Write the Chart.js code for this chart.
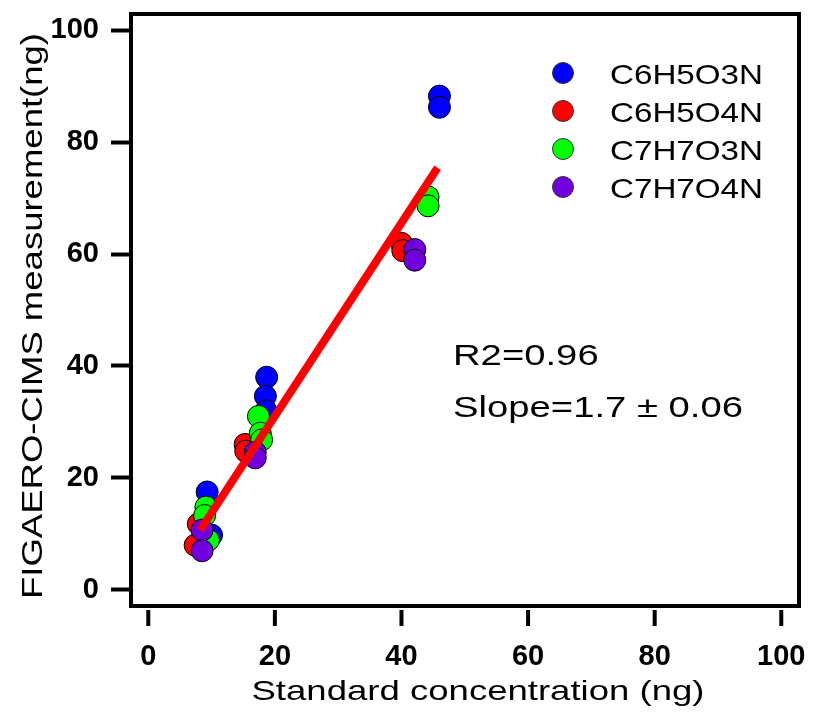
<!DOCTYPE html>
<html>
<head>
<meta charset="utf-8">
<script src="https://cdn.jsdelivr.net/npm/chart.js@4.4.1/dist/chart.umd.min.js"></script>
<style>
  body { margin: 0; background: #fff; }
  canvas { display: block; }
</style>
</head>
<body>
<canvas id="chart" width="815" height="717"></canvas>
<script>
// data
const seriesNames = ['C6H5O3N', 'C6H5O4N', 'C7H7O3N', 'C7H7O4N'];
const seriesColors = ['#0000ff', '#ff0000', '#00ff00', '#7000dd'];

const c6h5o3nX = [9.3, 10.0, 18.7, 18.5, 18.6, 46.0, 46.0];
const c6h5o3nY = [17.5, 9.8, 38.0, 34.6, 32.0, 88.2, 86.2];

const c6h5o4nX = [7.9, 7.4, 15.3, 15.4, 40.0, 40.2];
const c6h5o4nY = [11.8, 8.0, 26.0, 24.8, 61.9, 60.6];

const c7h7o3nX = [9.1, 8.9, 9.5, 17.4, 17.7, 17.9, 44.2, 44.2];
const c7h7o3nY = [14.8, 13.3, 8.9, 31.0, 28.0, 26.8, 70.2, 68.6];

const c7h7o4nX = [8.5, 8.5, 16.9, 16.9, 42.1, 42.1];
const c7h7o4nY = [10.7, 7.0, 24.6, 23.6, 60.8, 58.9];

// regression line end points
const fitX = [8.2, 45.7];
const fitY = [10.7, 75.4];

const xTicks = [0, 20, 40, 60, 80, 100];
const yTicks = [0, 20, 40, 60, 80, 100];

const xTitle = 'Standard concentration (ng)';
const yTitle = 'FIGAERO-CIMS measurement(ng)';
const noteLines = ['R2=0.96', 'Slope=1.7 \u00b1 0.06'];

const FONT = "'Liberation Sans', Arial, sans-serif";

function toPoints(xs, ys) {
    return xs.map((x, i) => ({ x: x, y: ys[i] }));
}

// text in the figure is wider than Arial, so stretch it to the measured width
function wideText(ctx, text, x, y, size, width, align, angle) {
    ctx.save();
    ctx.font = size + 'px ' + FONT;
    const sx = width / ctx.measureText(text).width;
    ctx.translate(x, y);
    if (angle) ctx.rotate(angle);
    ctx.scale(sx, 1);
    ctx.textAlign = align;
    ctx.textBaseline = 'alphabetic';
    ctx.fillStyle = '#000';
    ctx.fillText(text, 0, 0);
    ctx.restore();
}

const decorPlugin = {
    id: 'decor',
    afterDraw(chart) {
        const ctx = chart.ctx;
        const a = chart.chartArea;
        const xs = chart.scales.x;

        ctx.save();
        ctx.strokeStyle = '#000';
        ctx.lineWidth = 4;
        ctx.strokeRect(a.left, a.top, a.right - a.left, a.bottom - a.top);

        // x tick marks sit just below the frame
        ctx.beginPath();
        xs.ticks.forEach(t => {
            const px = xs.getPixelForValue(t.value);
            ctx.moveTo(px, a.bottom + 4);
            ctx.lineTo(px, a.bottom + 20);
        });
        ctx.stroke();
        ctx.restore();

        // axis titles
        wideText(ctx, xTitle, 478, 700, 28, 453, 'center');
        wideText(ctx, yTitle, 42, 316, 30, 566, 'center', -Math.PI / 2);

        // legend
        ctx.save();
        ctx.font = '28px ' + FONT;
        const legendStretch = 153 / ctx.measureText(seriesNames[0]).width;
        ctx.restore();
        seriesNames.forEach((name, i) => {
            const cy = 73 + i * 38;
            ctx.save();
            ctx.beginPath();
            ctx.arc(563, cy, 10.5, 0, Math.PI * 2);
            ctx.fillStyle = seriesColors[i];
            ctx.fill();
            ctx.lineWidth = 1;
            ctx.strokeStyle = '#333';
            ctx.stroke();
            ctx.restore();
            ctx.save();
            ctx.font = '28px ' + FONT;
            const w = ctx.measureText(name).width * legendStretch;
            ctx.restore();
            wideText(ctx, name, 610, cy + 10.5, 28, w, 'left');
        });

        // fit statistics
        ctx.save();
        ctx.font = '30px ' + FONT;
        const noteStretch = 290 / ctx.measureText(noteLines[1]).width;
        const w0 = ctx.measureText(noteLines[0]).width * noteStretch;
        ctx.restore();
        wideText(ctx, noteLines[0], 453, 365, 30, w0, 'left');
        wideText(ctx, noteLines[1], 453, 417, 30, 290, 'left');
    }
};

const seriesX = [c6h5o3nX, c6h5o4nX, c7h7o3nX, c7h7o4nX];
const seriesY = [c6h5o3nY, c6h5o4nY, c7h7o3nY, c7h7o4nY];

const datasets = seriesNames.map((name, i) => ({
    label: name,
    data: toPoints(seriesX[i], seriesY[i]),
    backgroundColor: seriesColors[i],
    borderColor: '#000',
    borderWidth: 1,
    pointRadius: 11,
    pointHoverRadius: 11,
    order: 4 - i
}));

datasets.push({
    type: 'line',
    label: 'fit',
    data: toPoints(fitX, fitY),
    borderColor: '#ff0000',
    borderWidth: 8,
    borderCapStyle: 'butt',
    pointRadius: 0,
    fill: false,
    order: 0
});

const ctx = document.getElementById('chart').getContext('2d');

new Chart(ctx, {
    type: 'scatter',
    data: { datasets: datasets },
    options: {
        responsive: false,
        animation: false,
        events: [],
        layout: { padding: { top: 14, right: 16, left: 0, bottom: 0 } },
        plugins: {
            legend: { display: false },
            tooltip: { enabled: false }
        },
        scales: {
            x: {
                type: 'linear',
                min: -2.73,
                max: 102.8,
                afterBuildTicks: s => { s.ticks = xTicks.map(v => ({ value: v })); },
                afterFit: s => { s.height = 111; s.paddingLeft = 0; s.paddingRight = 0; },
                border: { display: false },
                grid: { display: false, drawTicks: false },
                ticks: {
                    color: '#000',
                    padding: 34,
                    maxRotation: 0,
                    font: { family: FONT, size: 29, weight: 'bold' }
                }
            },
            y: {
                type: 'linear',
                min: -2.86,
                max: 102.86,
                afterBuildTicks: s => { s.ticks = yTicks.map(v => ({ value: v })); },
                afterFit: s => { s.width = 131; s.paddingTop = 0; s.paddingBottom = 0; },
                border: { display: false },
                grid: {
                    drawOnChartArea: false,
                    drawTicks: true,
                    tickLength: 20,
                    tickWidth: 4,
                    tickColor: '#000'
                },
                ticks: {
                    color: '#000',
                    padding: 12,
                    font: { family: FONT, size: 29, weight: 'bold' }
                }
            }
        }
    },
    plugins: [decorPlugin]
});
</script>
</body>
</html>
